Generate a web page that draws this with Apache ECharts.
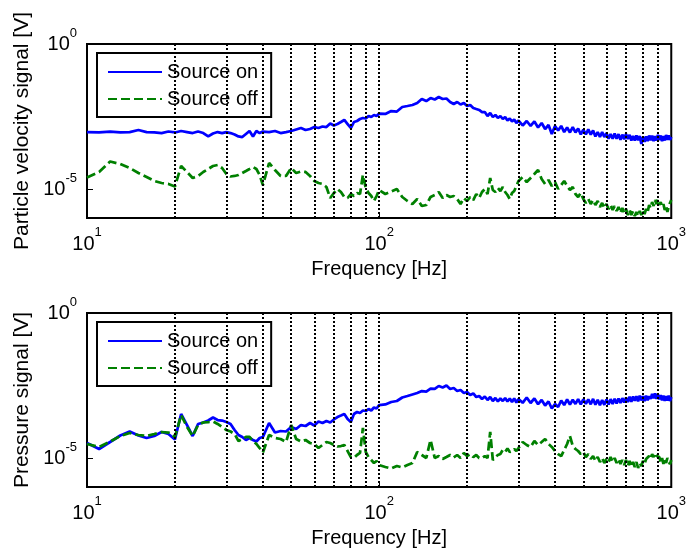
<!DOCTYPE html>
<html>
<head>
<meta charset="utf-8">
<script src="https://cdn.jsdelivr.net/npm/echarts@6/dist/echarts.min.js"></script>
<style>
html, body { margin: 0; padding: 0; background: #fff; }
#chart { width: 689px; height: 554px; }
</style>
</head>
<body>
<div id="chart"></div>
<script>
// Frequency bins [Hz]
const freq = [10,11,12,13,14,15,16,17,18,19,20,21,22,23,24,25,26,27,28,29,30,31,32,33,34,35,36,37,38,39,40,
  42,44,46,48,50,52,54,56,58,60,62,64,66,68,70,72,74,76,78,80,82,84,86,88,90,92,94,96,98,100,
  105,110,115,120,125,130,135,140,145,150,155,160,165,170,175,180,185,190,195,200,
  205,210,215,220,225,230,235,240,245,250,255,260,265,270,275,280,285,290,295,300,
  310,320,330,340,350,360,370,380,390,400,410,420,430,440,450,460,470,480,490,500,
  510,520,530,540,550,560,570,580,590,600,610,620,630,640,650,660,670,680,690,700,
  710,720,730,740,750,760,770,780,790,800,810,820,830,840,850,860,870,880,890,900,
  910,920,930,940,950,960,970,980,990,1000];

// Particle velocity channel [V]
const velocityOn = [9.2e-4,8.9e-4,9.6e-4,8.9e-4,9.2e-4,1.08e-3,9.2e-4,8.9e-4,8.5e-4,9.6e-4,
  8.9e-4,1.0e-3,9.2e-4,8.5e-4,9.6e-4,8.5e-4,6.5e-4,8.2e-4,9.2e-4,8.5e-4,
  9.2e-4,8.5e-4,7.6e-4,6.5e-4,6.2e-4,7.9e-4,1.0e-3,6.5e-4,1.0e-3,8.5e-4,
  9.6e-4,
  9.2e-4,1.0e-3,8.5e-4,9.2e-4,1.0e-3,1.13e-3,1.27e-3,1.08e-3,1.17e-3,1.37e-3,
  1.27e-3,1.43e-3,1.37e-3,1.81e-3,1.55e-3,1.74e-3,2.04e-3,2.4e-3,1.74e-3,1.27e-3,
  2.04e-3,2.21e-3,2.59e-3,2.81e-3,2.7e-3,3.29e-3,3.04e-3,3.56e-3,3.29e-3,4.01e-3,
  3.86e-3,4.89e-3,4.7e-3,6.72e-3,7.28e-3,7.88e-3,9.24e-3,1.27e-2,1.08e-2,1.37e-2,
  1.22e-2,1.49e-2,1.27e-2,1.32e-2,1.0e-2,8.53e-3,1.0e-2,8.2e-3,9.24e-3,7.28e-3,
  7.88e-3,6.21e-3,5.73e-3,5.3e-3,4.52e-3,4.52e-3,3.29e-3,4.17e-3,3.04e-3,3.56e-3,
  2.81e-3,3.29e-3,2.59e-3,3.04e-3,2.3e-3,2.7e-3,2.13e-3,2.49e-3,1.89e-3,2.3e-3,
  1.55e-3,2.21e-3,1.49e-3,2.13e-3,1.32e-3,1.89e-3,1.17e-3,1.61e-3,7.9e-4,1.49e-3,
  1.04e-3,1.49e-3,9.2e-4,1.32e-3,8.9e-4,1.37e-3,8.9e-4,1.22e-3,7.6e-4,1.11e-3,
  7.6e-4,1.14e-3,7.5e-4,1.04e-3,6.5e-4,9.2e-4,6.2e-4,9.2e-4,6.2e-4,8.5e-4,
  5.4e-4,7.9e-4,5.4e-4,8.2e-4,5.4e-4,7.8e-4,5.0e-4,7.5e-4,5.2e-4,7.9e-4,
  5.3e-4,7.4e-4,4.7e-4,6.8e-4,4.7e-4,7.1e-4,4.8e-4,6.7e-4,3.6e-4,6.2e-4,
  4.2e-4,6.5e-4,4.5e-4,7.0e-4,4.8e-4,6.9e-4,4.5e-4,6.7e-4,4.7e-4,7.3e-4,
  4.9e-4,7.0e-4,4.5e-4,6.7e-4,4.7e-4,7.3e-4,4.9e-4,7.0e-4,4.9e-4,6.2e-4];

const velocityOff = [2.49e-5,3.86e-5,8.88e-5,7.28e-5,5.3e-5,3.56e-5,2.59e-5,1.89e-5,1.61e-5,1.49e-5,
  1.22e-5,6.21e-5,3.86e-5,2.4e-5,2.81e-5,3.86e-5,4.89e-5,6.21e-5,6.72e-5,5.3e-5,
  3.29e-5,2.7e-5,2.81e-5,3.04e-5,3.56e-5,4.17e-5,4.89e-5,5.73e-5,4.89e-5,3.04e-5,
  1.37e-5,
  7.88e-5,4.52e-5,2.81e-5,2.81e-5,5.3e-5,3.56e-5,4.01e-5,3.86e-5,2.81e-5,1.89e-5,
  1.61e-5,1.49e-5,1.17e-5,4.89e-6,7.28e-6,1.0e-5,7.88e-6,5.3e-6,4.89e-6,6.72e-6,
  5.73e-6,7.28e-6,6.72e-6,3.04e-5,1.08e-5,7.28e-6,5.73e-6,3.85e-6,5.73e-6,9.23e-6,
  6.72e-6,8.2e-6,1.0e-5,5.3e-6,3.85e-6,3.04e-6,4.52e-6,2.59e-6,2.81e-6,5.3e-6,
  6.21e-6,7.88e-6,4.89e-6,6.21e-6,5.3e-6,5.73e-6,4.52e-6,3.04e-6,4.89e-6,3.85e-6,
  5.3e-6,4.17e-6,6.72e-6,4.89e-6,7.88e-6,1.0e-5,6.72e-6,2.4e-5,9.23e-6,7.88e-6,
  1.08e-5,8.53e-6,1.17e-5,7.88e-6,6.21e-6,4.52e-6,7.28e-6,8.53e-6,1.27e-5,1.89e-5,
  2.59e-5,1.74e-5,2.4e-5,3.29e-5,4.52e-5,2.21e-5,1.49e-5,2.04e-5,1.27e-5,1.74e-5,
  1.0e-5,1.37e-5,1.89e-5,1.27e-5,9.23e-6,1.17e-5,6.72e-6,5.3e-6,7.28e-6,4.52e-6,
  3.29e-6,4.52e-6,3.04e-6,4.17e-6,2.81e-6,3.85e-6,2.4e-6,3.29e-6,2.21e-6,3.04e-6,
  2.04e-6,2.81e-6,1.89e-6,2.59e-6,1.74e-6,2.4e-6,1.49e-6,2.21e-6,1.49e-6,2.04e-6,
  1.27e-6,1.89e-6,1.27e-6,1.74e-6,1.17e-6,1.61e-6,1.17e-6,1.74e-6,1.27e-6,1.89e-6,
  1.37e-6,2.04e-6,1.61e-6,2.81e-6,2.21e-6,3.56e-6,2.59e-6,4.17e-6,3.04e-6,4.52e-6,
  2.81e-6,3.56e-6,2.4e-6,3.04e-6,1.89e-6,2.59e-6,1.61e-6,2.4e-6,3.29e-6,4.17e-6];

// Pressure channel [V]
const pressureOn = [3.29e-5,2.04e-5,3.56e-5,5.97e-5,8.2e-5,5.97e-5,4.89e-5,5.73e-5,7.88e-5,6.72e-5,
  4.34e-5,3.29e-4,1.37e-4,5.73e-5,1.49e-4,1.68e-4,1.96e-4,2.49e-4,2.04e-4,1.96e-4,
  1.74e-4,1.49e-4,9.24e-5,6.21e-5,5.3e-5,4.17e-5,4.89e-5,4.17e-5,3.7e-5,4.89e-5,
  5.3e-5,
  1.61e-4,7.57e-5,8.53e-5,8.2e-5,1.17e-4,1.0e-4,1.37e-4,1.27e-4,1.61e-4,1.32e-4,
  1.81e-4,1.61e-4,1.89e-4,1.68e-4,2.13e-4,2.59e-4,2.92e-4,3.29e-4,2.21e-4,1.74e-4,
  3.29e-4,3.86e-4,3.56e-4,4.34e-4,4.17e-4,4.89e-4,4.34e-4,5.51e-4,5.1e-4,6.72e-4,
  7.0e-4,8.53e-4,9.24e-4,1.22e-3,1.37e-3,1.55e-3,1.74e-3,2.04e-3,1.96e-3,2.49e-3,
  2.4e-3,3.04e-3,2.7e-3,3.16e-3,2.4e-3,2.59e-3,2.04e-3,2.21e-3,1.74e-3,1.89e-3,
  1.49e-3,1.68e-3,1.27e-3,1.37e-3,1.08e-3,1.32e-3,1.0e-3,1.27e-3,9.24e-4,1.17e-3,
  8.88e-4,1.13e-3,9.24e-4,1.17e-3,8.9e-4,1.13e-3,8.53e-4,1.13e-3,8.2e-4,1.08e-3,
  8.0e-4,1.22e-3,7.88e-4,1.13e-3,7.17e-4,1.0e-3,6.46e-4,8.9e-4,5.1e-4,7.28e-4,
  5.73e-4,9.6e-4,6.7e-4,1.04e-3,7.0e-4,1.02e-3,7.3e-4,1.08e-3,7.1e-4,1.06e-3,
  7.3e-4,1.05e-3,7.1e-4,1.09e-3,6.9e-4,1.02e-3,6.6e-4,1.0e-3,6.8e-4,1.05e-3,
  7.0e-4,1.07e-3,7.3e-4,1.1e-3,7.6e-4,1.12e-3,7.9e-4,1.16e-3,8.2e-4,1.2e-3,
  8.5e-4,1.3e-3,8.7e-4,1.33e-3,9.5e-4,1.36e-3,9.0e-4,1.42e-3,9.7e-4,1.35e-3,
  9.2e-4,1.4e-3,9.8e-4,1.36e-3,1.1e-3,1.62e-3,1.15e-3,1.7e-3,1.1e-3,1.58e-3,
  1.05e-3,1.47e-3,9.7e-4,1.41e-3,9.3e-4,1.37e-3,9.6e-4,1.42e-3,9.2e-4,1.25e-3];

const pressureOff = [3.04e-5,2.4e-5,3.7e-5,5.73e-5,7.28e-5,6.21e-5,5.73e-5,6.72e-5,7.88e-5,7.57e-5,
  5.3e-5,3.04e-4,1.17e-4,5.73e-5,1.37e-4,1.68e-4,1.74e-4,1.81e-4,1.49e-4,1.17e-4,
  9.24e-5,8.2e-5,6.72e-5,3.86e-5,4.52e-5,5.3e-5,5.3e-5,3.86e-5,3.04e-5,2.21e-5,
  1.55e-5,
  6.21e-5,4.89e-5,4.52e-5,3.56e-5,1.37e-4,4.52e-5,3.7e-5,4.17e-5,3.29e-5,3.04e-5,
  2.21e-5,2.81e-5,3.56e-5,3.29e-5,2.81e-5,2.49e-5,2.59e-5,2.81e-5,1.74e-5,1.08e-5,
  1.0e-5,1.27e-5,1.49e-5,1.08e-4,1.61e-5,1.08e-5,8.53e-6,6.72e-6,7.88e-6,5.73e-6,
  4.89e-6,4.34e-6,5.3e-6,4.7e-6,5.73e-6,6.72e-6,1.61e-5,1.27e-5,1.0e-5,4.17e-5,
  1.0e-5,1.17e-5,9.23e-6,1.08e-5,1.27e-5,1.04e-5,1.27e-5,1.0e-5,1.49e-5,1.17e-5,
  1.37e-5,1.08e-5,1.27e-5,1.0e-5,1.0e-5,1.17e-5,1.0e-5,7.88e-5,8.53e-6,1.08e-5,
  1.27e-5,1.37e-5,1.89e-5,1.61e-5,2.13e-5,1.61e-5,1.74e-5,2.04e-5,1.74e-5,2.21e-5,
  3.56e-5,2.81e-5,2.4e-5,3.86e-5,2.81e-5,3.56e-5,4.52e-5,3.04e-5,2.4e-5,1.74e-5,
  1.37e-5,1.17e-5,1.89e-5,3.04e-5,5.73e-5,2.59e-5,2.04e-5,1.74e-5,1.37e-5,1.61e-5,
  1.08e-5,1.37e-5,9.23e-6,1.17e-5,7.88e-6,1.08e-5,7.28e-6,1.0e-5,6.72e-6,9.23e-6,
  7.28e-6,1.08e-5,7.28e-6,1.0e-5,6.72e-6,9.23e-6,6.21e-6,8.53e-6,5.73e-6,8.53e-6,
  5.3e-6,7.88e-6,4.89e-6,7.28e-6,4.89e-6,7.28e-6,4.52e-6,6.72e-6,5.3e-6,7.88e-6,
  6.21e-6,9.23e-6,7.88e-6,1.17e-5,9.23e-6,1.37e-5,1.08e-5,1.49e-5,1.17e-5,1.37e-5,
  1.08e-5,7.28e-6,1.0e-5,6.21e-6,9.23e-6,6.72e-6,1.0e-5,7.28e-6,6.21e-6,8.53e-6];

// Grid positions and tick labels
const minorGridFreqs = [20,30,40,50,60,70,80,90,100,200,300,400,500,600,700,800,900];
const yLabelValues = [1e-5, 1];
const referenceLevel = 1e-5;
const seriesNames = ['Source on', 'Source off'];
const yNames = ['Particle velocity signal [V]', 'Pressure signal [V]'];

const FONT = '"Liberation Sans", Arial, Helvetica, sans-serif';
const BLUE = '#0000ff';
const GREEN = '#008000';

const pairs = (values) => freq.map((f, i) => [f, values[i]]);
const exponentOf = (v) => Math.round(Math.log10(v));

const xRich = {
  b: { fontSize: 20, lineHeight: 36, verticalAlign: 'middle', color: '#000', fontFamily: FONT },
  s: { fontSize: 13, lineHeight: 14, verticalAlign: 'top', color: '#000', fontFamily: FONT }
};
const yRich = {
  b: { fontSize: 20, lineHeight: 34, verticalAlign: 'middle', color: '#000', fontFamily: FONT },
  s: { fontSize: 13, lineHeight: 14, verticalAlign: 'top', color: '#000', fontFamily: FONT }
};

const grids = [
  { left: 87, top: 44, width: 586, height: 174 },
  { left: 87, top: 313, width: 586, height: 174 }
].map(g => Object.assign(g, { show: true, borderColor: '#000', borderWidth: 2, backgroundColor: 'transparent' }));

const xAxes = [0, 1].map(i => ({
  type: 'log', logBase: 10, gridIndex: i, min: 10, max: 1000,
  name: 'Frequency [Hz]', nameLocation: 'middle', nameGap: 41,
  nameTextStyle: { fontSize: 20, color: '#000', fontFamily: FONT },
  axisLine: { show: false },
  axisTick: { show: true, inside: true, length: 6, lineStyle: { color: '#000', width: 1 } },
  axisLabel: {
    margin: 8,
    formatter: v => '{b|10}{s|' + exponentOf(v) + '}',
    rich: xRich
  },
  splitLine: { show: false },
  minorTick: { show: false }
}));

const yAxes = [0, 1].map(i => ({
  type: 'log', logBase: 10, gridIndex: i, min: 1e-6, max: 1,
  name: yNames[i], nameLocation: 'middle', nameGap: 43,
  nameTextStyle: { fontSize: 21, color: '#000', fontFamily: FONT },
  axisLine: { show: false },
  axisTick: { show: true, inside: true, length: 6, customValues: yLabelValues, lineStyle: { color: '#000', width: 1 } },
  axisLabel: {
    margin: 10,
    formatter: v => yLabelValues.some(t => exponentOf(t) === exponentOf(v)) ? '{b|10}{s|' + exponentOf(v) + '}' : '',
    rich: yRich
  },
  splitLine: { show: false }
}));

// Dotted frequency grid plus the dashed reference level
const guideLines = () => ({
  silent: true,
  symbol: 'none',
  label: { show: false },
  emphasis: { disabled: true },
  animation: false,
  lineStyle: { color: '#000', width: 2, type: [2, 2], opacity: 1 },
  data: minorGridFreqs.map(f => ({ xAxis: f }))
    .concat([{ yAxis: referenceLevel, lineStyle: { color: '#666', width: 1, type: [7, 4] } }])
});

const panels = [[velocityOn, velocityOff], [pressureOn, pressureOff]];
const series = [];
panels.forEach((pair, i) => {
  series.push({
    type: 'line', name: seriesNames[0], xAxisIndex: i, yAxisIndex: i,
    data: pairs(pair[0]), symbol: 'none', color: BLUE,
    lineStyle: { color: BLUE, width: 2.75 }, z: 3,
    markLine: guideLines()
  });
  series.push({
    type: 'line', name: seriesNames[1], xAxisIndex: i, yAxisIndex: i,
    data: pairs(pair[1]), symbol: 'none', color: GREEN,
    lineStyle: { color: GREEN, width: 2.75, type: [9, 4] }, z: 3
  });
});

const legends = [53, 322].map(top => ({
  left: 97, top: top, orient: 'vertical',
  data: seriesNames,
  itemWidth: 54, itemHeight: 14, itemGap: 7,
  padding: [9, 13, 8, 10],
  borderColor: '#000', borderWidth: 2, borderRadius: 0,
  backgroundColor: '#fff',
  selectedMode: false,
  itemStyle: { opacity: 0 },
  textStyle: { fontSize: 20, color: '#000', fontFamily: FONT, lineHeight: 20 }
}));

const chart = echarts.init(document.getElementById('chart'));
chart.setOption({
  animation: false,
  backgroundColor: '#fff',
  grid: grids,
  xAxis: xAxes,
  yAxis: yAxes,
  legend: legends,
  series: series
});
</script>
</body>
</html>
